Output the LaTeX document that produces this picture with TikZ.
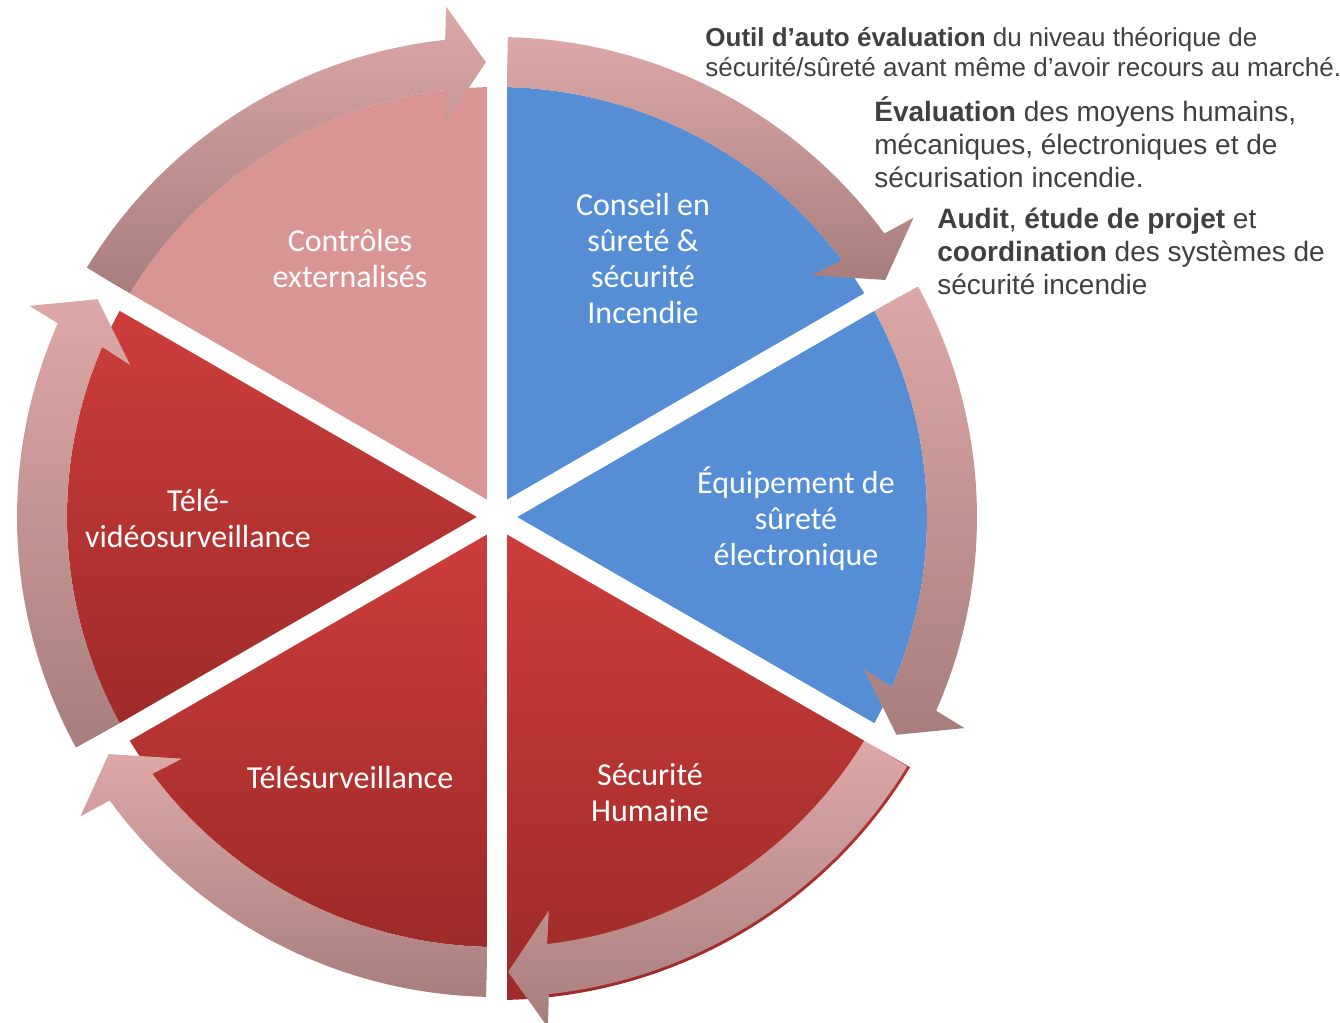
\documentclass[tikz,border=0pt]{standalone}
\usepackage{fontspec}
\setmainfont{Liberation Sans}
\newfontfamily\segfont{Carlito}

\definecolor{segblue}{RGB}{85,142,213}
\definecolor{segpink}{RGB}{217,149,148}
\definecolor{segredtop}{RGB}{206,62,59}
\definecolor{segredbot}{RGB}{157,42,41}
\definecolor{arrowtop}{RGB}{221,168,167}
\definecolor{arrowbot}{RGB}{167,126,124}
\definecolor{notegray}{RGB}{64,64,64}

\tikzset{
  seglabel/.style={font=\segfont\fontsize{16}{18}\selectfont, text=white, align=center, inner sep=0pt},
  note/.style={font=\fontsize{14}{16.5}\selectfont, text=notegray, align=left, anchor=base west, inner sep=0pt},
  redseg/.style={top color=segredtop, bottom color=segredbot},
  ringarrow/.style={top color=arrowtop, bottom color=arrowbot},
}

\begin{document}
\begin{tikzpicture}[x=0.5pt, y=0.5pt]
\useasboundingbox (-497,-506) rectangle (843,517);

% sectors
\fill[segblue] (0,0) -- (30:430) arc[start angle=30, end angle=90, radius=430] -- cycle;
\fill[segblue] (0,0) -- (-30:430) arc[start angle=-30, end angle=30, radius=430] -- cycle;
\shade[redseg] (0,0) -- (-90:483) arc[start angle=-90, end angle=-30, radius=483] -- cycle;
\shade[redseg] (0,0) -- (210:430) arc[start angle=210, end angle=270, radius=430] -- cycle;
\shade[redseg] (0,0) -- (150:430) arc[start angle=150, end angle=210, radius=430] -- cycle;
\fill[segpink] (0,0) -- (90:430) arc[start angle=90, end angle=150, radius=430] -- cycle;

% curved arrows, clockwise
\foreach \s in {88.7, 28.7, -31.3, -91.3, -151.3, 148.7} {
  \shade[ringarrow] (\s:480) arc[start angle=\s, end angle=\s-52.5, radius=480]
    -- ({\s-53}:513) -- ({\s-57.3}:455) -- ({\s-51.2}:397) -- ({\s-52}:430)
    arc[start angle=\s-52, end angle=\s, radius=430] -- cycle;
}

% gaps
\foreach \a in {30,90,...,330}
  \draw[white, line width=10pt] (0,0) -- (\a:500);

% labels
\node[seglabel] (controles) at (-147,258) {Contrôles\\externalisés};
\node[seglabel] (conseil) at (146,258) {Conseil en\\sûreté \&\\sécurité\\Incendie};
\node[seglabel] (equipement) at (299,-2) {Équipement de\\sûreté\\électronique};
\node[seglabel] (humaine) at (153,-276) {Sécurité\\Humaine};
\node[seglabel] (telesurv) at (-147,-261) {Télésurveillance};
\node[seglabel] (televideo) at (-299,-2) {Télé-\\vidéosurveillance};

% notes (base = last line)
\node[note, font=\fontsize{13}{15}\selectfont] (outil) at (208,440)
  {\textbf{Outil d’auto évaluation} du niveau théorique de\\sécurité/sûreté avant même d’avoir recours au marché.};
\node[note] (evaluation) at (377,329)
  {\textbf{Évaluation} des moyens humains,\\mécaniques, électroniques et de\\sécurisation incendie.};
\node[note] (audit) at (440,222)
  {\textbf{Audit}, \textbf{étude de projet} et\\\textbf{coordination} des systèmes de\\sécurité incendie};

\end{tikzpicture}
\end{document}
